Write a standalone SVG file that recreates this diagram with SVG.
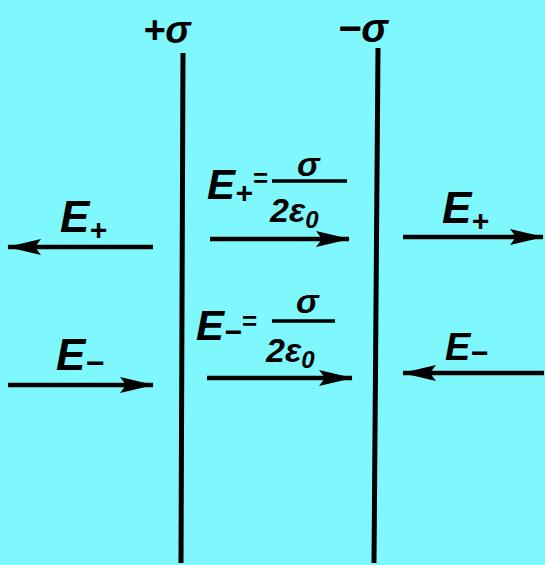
<svg xmlns="http://www.w3.org/2000/svg" width="545" height="565" viewBox="0 0 545 565">
<style>
.t{font-family:"Liberation Sans",Arial,sans-serif;font-style:italic;font-weight:bold;fill:#000}
.l{stroke:#000;stroke-width:5;fill:none}
.a{stroke:#000;stroke-width:4.5;fill:none}
</style>
<defs>
<marker id="ah" viewBox="0 0 34 18" refX="33" refY="9" markerWidth="34" markerHeight="18" orient="auto-start-reverse" markerUnits="userSpaceOnUse">
<path d="M0,1 L34,9 L0,17 L6,9 Z" fill="#000"/>
</marker>
</defs>
<rect width="545" height="565" fill="#7ef8fd"/>
<g id="plate-plus">
<line class="l" x1="183" y1="53" x2="181" y2="563"/>
<text class="t" x="143" y="43" font-size="38">+σ</text>
</g>
<g id="plate-minus">
<line class="l" x1="378" y1="48" x2="374" y2="563"/>
<text class="t" x="338" y="42" font-size="40">−σ</text>
</g>
<g id="connectors">
<line class="a" x1="153" y1="247" x2="8" y2="247" marker-end="url(#ah)"/>
<line class="a" x1="8" y1="385" x2="153" y2="385" marker-end="url(#ah)"/>
<line class="a" x1="210" y1="239" x2="349" y2="239" marker-end="url(#ah)"/>
<line class="a" x1="207" y1="378" x2="352" y2="378" marker-end="url(#ah)"/>
<line class="a" x1="403" y1="237" x2="543" y2="237" marker-end="url(#ah)"/>
<line class="a" x1="544" y1="373" x2="403" y2="373" marker-end="url(#ah)"/>
</g>
<g id="label-left-plus">
<text class="t" x="60" y="232" font-size="44">E<tspan font-size="30" dy="8">+</tspan></text>
</g>
<g id="label-left-minus">
<text class="t" x="56" y="370" font-size="44">E<tspan font-size="32" dy="4">−</tspan></text>
</g>
<g id="label-right-plus">
<text class="t" x="442" y="223" font-size="44">E<tspan font-size="30" dy="8">+</tspan></text>
</g>
<g id="label-right-minus">
<text class="t" x="445" y="360" font-size="38">E<tspan font-size="30" dy="3">−</tspan></text>
</g>
<g id="formula-plus">
<text class="t" x="207" y="199" font-size="42">E<tspan font-size="30" dy="4">+</tspan><tspan dy="-16" font-size="26">=</tspan></text>
<text class="t" x="297" y="176" font-size="34">σ</text>
<line x1="272" y1="181" x2="347" y2="181" stroke="#000" stroke-width="3.5"/>
<text class="t" x="270" y="222" font-size="34">2ε<tspan font-size="24" dy="6">0</tspan></text>
</g>
<g id="formula-minus">
<text class="t" x="196" y="340" font-size="42">E<tspan font-size="30" dy="2">−</tspan><tspan dy="-12" font-size="26">=</tspan></text>
<text class="t" x="296" y="313" font-size="34">σ</text>
<line x1="272" y1="321" x2="335" y2="321" stroke="#000" stroke-width="3.5"/>
<text class="t" x="266" y="362" font-size="34">2ε<tspan font-size="24" dy="6">0</tspan></text>
</g>
</svg>
